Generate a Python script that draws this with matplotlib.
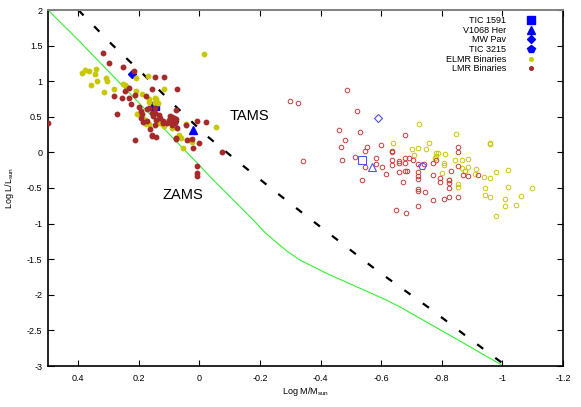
import matplotlib
matplotlib.use("Agg")
import matplotlib.pyplot as plt
from matplotlib.lines import Line2D

plt.rcParams['font.family'] = ['Liberation Sans', 'DejaVu Sans']
plt.rcParams['mathtext.default'] = 'regular'

# ---------------- data ----------------
zams_x = [0.5, 0.4, 0.2, 0.0, -0.046, -0.112, -0.178, -0.215, -0.25, -0.29, -0.332,
          -0.42, -0.519, -0.617, -0.661, -0.815, -0.995]
zams_y = [2.0, 1.577, 0.697, -0.183, -0.389, -0.67, -0.951, -1.12, -1.25, -1.39, -1.513,
          -1.70, -1.888, -2.074, -2.169, -2.54, -2.98]

tams_x = [0.40, 0.29, 0.185, 0.083, -0.021, -0.13, -0.244, -0.356, -0.471, -0.584,
          -0.76, -0.873, -1.0]
tams_y = [2.0, 1.52, 1.095, 0.664, 0.243, -0.14, -0.53, -0.904, -1.28, -1.653,
          -2.19, -2.556, -2.96]

# LMR binaries (primaries, filled)
lmr_p_x = [0.317, 0.30, 0.254, 0.217, 0.146, 0.117, 0.158, 0.073, 0.231, 0.245,
           0.282, 0.256, 0.231, 0.212, 0.177, 0.225, 0.20, 0.173, 0.192, 0.19,
           0.156, 0.272, 0.194, 0.172, 0.144, 0.155, 0.162, 0.146, 0.119, 0.077,
           0.168, 0.146, 0.146, 0.135, 0.129, 0.185, 0.121, 0.107, 0.097, 0.09,
           0.085, 0.078, 0.10, 0.088, 0.08, 0.09, 0.044, 0.009, -0.021, 0.073,
           0.077, 0.042, 0.025, 0.0, 0.021, 0.077, 0.157, 0.143, 0.214, 0.158,
           -0.074, 0.007, 0.007, 0.007, 0.499]
lmr_p_y = [1.40, 1.26, 1.20, 1.15, 1.06, 1.06, 0.885, 0.885, 0.90, 0.86,
           0.795, 0.77, 0.77, 0.80, 0.795, 0.68, 0.636, 0.61, 0.58, 0.54,
           0.556, 0.538, 0.48, 0.435, 0.45, 0.51, 0.33, 0.38, 0.416, 0.594,
           0.618, 0.618, 0.548, 0.524, 0.478, 0.43, 0.44, 0.407, 0.51, 0.50,
           0.48, 0.47, 0.45, 0.43, 0.41, 0.39, 0.383, 0.44, 0.43, 0.337,
           0.197, 0.17, 0.183, 0.126, 0.06, 0.187, 0.243, 0.219, 0.18, 0.225,
           0.0, -0.19, -0.29, -0.33, 0.41]

# ELMR binaries (primaries, filled)
elmr_p_x = [-0.016, 0.389, 0.377, 0.364, 0.34, 0.344, 0.357, 0.338, 0.316, 0.308,
            0.305, 0.281, 0.252, 0.245, 0.238, 0.208, 0.171, 0.117, 0.208, 0.19,
            0.168, 0.168, 0.147, 0.142, 0.206, 0.182, 0.177, 0.168, 0.116, 0.096,
            0.09, 0.068, 0.06, 0.055, 0.044, 0.025, -0.055, 0.146, 0.137, 0.135,
            0.125, 0.03]
elmr_p_y = [1.385, 1.11, 1.16, 1.14, 1.166, 1.10, 0.95, 1.00, 0.847, 1.04,
            1.00, 0.885, 0.96, 0.94, 0.92, 1.05, 1.07, 0.885, 0.865, 0.82,
            0.745, 0.706, 0.767, 0.745, 0.538, 0.47, 0.40, 0.40, 0.37, 0.425,
            0.34, 0.247, 0.205, 0.056, 0.40, 0.15, 0.36, 0.69, 0.69, 0.41,
            0.40, 0.17]

# LMR binaries (secondaries, open)
lmr_s_x = [-0.486, -0.299, -0.326, -0.519, -0.461, -0.53, -0.481, -0.678, -0.467, -0.553,
           -0.547, -0.60, -0.637, -0.637, -0.343, -0.469, -0.515, -0.582, -0.547, -0.582,
           -0.603, -0.637, -0.637, -0.657, -0.657, -0.678, -0.678, -0.692, -0.706, -0.72,
           -0.742, -0.77, -0.782, -0.853, -0.853, -0.853, -0.83, -0.87, -0.92, -0.616,
           -0.659, -0.68, -0.685, -0.72, -0.72, -0.72, -0.77, -0.795, -0.795, -0.824,
           -0.824, -0.824, -0.853, -0.824, -0.806, -0.77, -0.744, -0.72, -0.72, -0.673,
           -0.537, -0.72, -0.649, -0.681, -0.886]
lmr_s_y = [0.875, 0.72, 0.688, 0.585, 0.313, 0.28, 0.17, 0.24, 0.075, 0.08,
           0.02, 0.10, 0.02, 0.0, -0.12, -0.11, -0.07, -0.085, -0.21, -0.165,
           -0.20, -0.108, -0.178, -0.118, -0.146, -0.076, -0.146, -0.076, -0.10, -0.165,
           -0.165, -0.146, -0.11, 0.08, 0.0, -0.19, -0.258, -0.32, -0.32, -0.31,
           -0.28, -0.267, -0.267, -0.27, -0.33, -0.38, -0.32, -0.365, -0.41, -0.39,
           -0.435, -0.497, -0.632, -0.623, -0.656, -0.666, -0.562, -0.515, -0.543, -0.417,
           -0.385, -0.754, -0.81, -0.853, -0.33]

# ELMR binaries (secondaries, open)
elmr_s_x = [-0.724, -0.848, -0.959, -0.959, -0.639, -0.70, -0.72, -0.758, -0.749, -0.707,
            -0.782, -0.787, -0.812, -0.780, -0.777, -0.842, -0.886, -0.807, -0.807, -0.886,
            -0.875, -0.914, -0.908, -0.939, -0.959, -0.979, -1.018, -0.80, -0.824, -0.853,
            -0.853, -0.942, -1.018, -1.097, -0.942, -0.959, -1.01, -1.06, -1.008, -1.046,
            -0.979, -0.868, -0.868, -0.875]
elmr_s_y = [0.393, 0.253, 0.135, 0.117, 0.135, 0.05, 0.056, 0.126, 0.046, -0.042,
            -0.014, -0.005, -0.028, -0.052, -0.075, -0.108, -0.094, -0.146, -0.178, -0.20,
            -0.258, -0.23, -0.305, -0.352, -0.365, -0.28, -0.248, -0.295, -0.39, -0.45,
            -0.483, -0.497, -0.492, -0.497, -0.604, -0.632, -0.66, -0.618, -0.758, -0.745,
            -0.895, -0.10, -0.215, -0.255]

# Individual systems: (primary, secondary) positions
tic1591_x, tic1591_y = [0.148, -0.537], [0.655, -0.108]
v1068_x, v1068_y = [0.022, -0.568], [0.313, -0.20]
mwpav_x, mwpav_y = [0.224, -0.589], [1.10, 0.482]
tic3215_x, tic3215_y = [0.085, -0.736], [0.42, -0.19]

legend_labels = ["TIC 1591", "V1068 Her", "MW Pav", "TIC 3215", "ELMR Binaries", "LMR Binaries"]
x_ticks = [0.4, 0.2, 0, -0.2, -0.4, -0.6, -0.8, -1, -1.2]
y_ticks = [2, 1.5, 1, 0.5, 0, -0.5, -1, -1.5, -2, -2.5, -3]

# ---------------- styles ----------------
YEL = "#c8c800"
RED = "#a52a2a"
RED_O = "#c43c3c"
BLUE = "#0000ff"
BLUE_O = "#5050ff"
FS = 6.5

fig = plt.figure(figsize=(5.81, 4.07), dpi=100)
ax = fig.add_axes([48/581, 1-366/407, (563-48)/581, (366-10)/407])

ax.plot(zams_x, zams_y, color="#33ee33", lw=0.8, zorder=2)
ax.plot(tams_x, tams_y, color="black", lw=1.6, dashes=(3.4, 6.8),
        solid_capstyle='butt', dash_capstyle='butt', zorder=2)

# blue systems (filled primaries, open secondaries)
sys_data = [(tic1591_x, tic1591_y, 's', 5.8), (v1068_x, v1068_y, '^', 5.5),
            (mwpav_x, mwpav_y, 'D', 4.5), (tic3215_x, tic3215_y, 'p', 5.5)]
for xs, ys, m, ms in sys_data:
    ax.plot(xs[:1], ys[:1], ls='none', marker=m, ms=ms, color=BLUE, mec=BLUE, zorder=3)
    ax.plot(xs[1:], ys[1:], ls='none', marker=m, ms=ms, mfc='none', mec=BLUE_O, mew=0.8, zorder=5)

ax.plot(elmr_p_x, elmr_p_y, ls='none', marker='o', ms=3.2, color=YEL, mec=YEL, zorder=4)
ax.plot(lmr_p_x, lmr_p_y, ls='none', marker='o', ms=3.2, color=RED, mec=RED, zorder=4)
ax.plot(elmr_s_x, elmr_s_y, ls='none', marker='o', ms=3.3, mfc='none', mec=YEL, mew=0.7, zorder=4)
ax.plot(lmr_s_x, lmr_s_y, ls='none', marker='o', ms=3.3, mfc='none', mec=RED_O, mew=0.7, zorder=4)

ax.text(-0.164, 0.514, "TAMS", fontsize=10.5, ha='center', va='center')
ax.text(0.055, -0.60, "ZAMS", fontsize=10.5, ha='center', va='center')

ax.set_xlim(0.5, -1.2)
ax.set_ylim(-3, 2)
ax.set_xticks(x_ticks)
ax.set_xticklabels([f"{t:g}" for t in x_ticks])
ax.set_yticks(y_ticks)
ax.set_yticklabels([f"{t:g}" for t in y_ticks])
ax.tick_params(direction='in', length=4, width=0.8, labelsize=FS,
               top=True, right=True, pad=4)
ax.tick_params(axis='x', pad=6)
for s in ['left', 'bottom', 'right']:
    ax.spines[s].set_linewidth(1.2)
ax.spines['top'].set_color('#808080')
ax.spines['top'].set_linewidth(1.4)

ax.set_xlabel("Log M/M$_{sun}$", fontsize=FS)
ax.set_ylabel("Log L/L$_{sun}$", fontsize=FS)
ax.xaxis.set_label_coords(0.5, -0.052)
ax.yaxis.set_label_coords(-0.062, 0.5)

handles = [
    Line2D([], [], ls='none', marker='s', ms=5.8, color=BLUE),
    Line2D([], [], ls='none', marker='^', ms=5.5, color=BLUE),
    Line2D([], [], ls='none', marker='D', ms=4.5, color=BLUE),
    Line2D([], [], ls='none', marker='p', ms=5.5, color=BLUE),
    Line2D([], [], ls='none', marker='o', ms=2.6, color=YEL),
    Line2D([], [], ls='none', marker='o', ms=2.6, color=RED),
]
leg = ax.legend(handles, legend_labels, loc='upper right', bbox_to_anchor=(0.947, 0.982),
                frameon=False, markerfirst=False, fontsize=FS, handlelength=1.0,
                handleheight=0.6, handletextpad=2.3, labelspacing=0.06,
                borderpad=0, borderaxespad=0)

fig.savefig("out.png", dpi=100)
